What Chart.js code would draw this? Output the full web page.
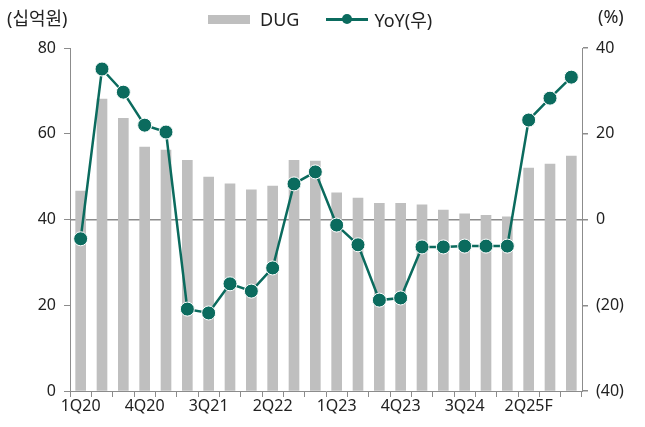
<!DOCTYPE html>
<html>
<head>
<meta charset="utf-8">
<script src="https://cdn.jsdelivr.net/npm/chart.js@4/dist/chart.umd.min.js"></script>
<style>
  html, body { margin: 0; padding: 0; background: #fff; }
  #wrap { position: relative; width: 645px; height: 427px; font-family: "Noto Sans", "Noto Sans CJK KR", sans-serif; color: #222; }
  canvas { position: absolute; left: 0; top: 0; }
  .unit { position: absolute; top: 4px; font-size: 18px; }
  #legend { position: absolute; top: 6px; left: 208px; font-size: 18px; display: flex; align-items: center; }
  .swatch { display: inline-block; width: 42px; height: 9px; background: #bfbfbf; margin-right: 10px; }
  .lineKey { position: relative; display: inline-block; width: 42px; height: 3px; background: #0b6b5e; margin: 0 6px 0 27px; }
  .lineKey::after { content: ""; position: absolute; left: 16px; top: -4px; width: 10px; height: 10px; border-radius: 50%; background: #0b6b5e; }
</style>
</head>
<body>
<div id="wrap">
  <canvas id="dugChart" width="645" height="427"></canvas>
  <div class="unit" style="left:7px">(십억원)</div>
  <div class="unit" style="left:598px">(%)</div>
  <div id="legend"><span class="swatch"></span>DUG<span class="lineKey"></span>YoY(우)</div>
</div>
<script>
// 분기 라벨
const quarters = ['1Q20','2Q20','3Q20','4Q20','1Q21','2Q21','3Q21','4Q21','1Q22','2Q22','3Q22','4Q22',
                  '1Q23','2Q23','3Q23','4Q23','1Q24','2Q24','3Q24','4Q24','1Q25','2Q25F','3Q25F','4Q25F'];
// DUG 매출 (십억원)
const dugValues = [46.6, 68.1, 63.6, 56.9, 56.2, 53.8, 49.9, 48.3, 46.9, 47.8, 53.8, 53.6,
                   46.2, 45.0, 43.8, 43.8, 43.4, 42.2, 41.3, 41.0, 40.6, 52.0, 52.9, 54.8];
// YoY (%)
const yoyValues = [-4.5, 35.1, 29.7, 22.0, 20.4, -20.9, -21.8, -15.0, -16.7, -11.3, 8.3, 11.1,
                   -1.3, -5.9, -18.8, -18.3, -6.4, -6.4, -6.2, -6.2, -6.2, 23.2, 28.3, 33.2];
const leftTicks = [0, 20, 40, 60, 80];
const rightTicks = [-40, -20, 0, 20, 40];

const green = '#0b6b5e';
const axisGray = '#8c8c8c';
const tickFont = { family: '"Noto Sans", sans-serif', size: 16 };

const ctx = document.getElementById('dugChart').getContext('2d');
const dugChart = new Chart(ctx, {
  data: {
    labels: quarters,
    datasets: [
      {
        type: 'line',
        label: 'YoY(우)',
        data: yoyValues,
        yAxisID: 'y1',
        borderColor: green,
        borderWidth: 2.5,
        backgroundColor: green,
        pointRadius: 7,
        pointBorderColor: '#ffffff',
        pointBorderWidth: 1,
        pointBackgroundColor: green,
        tension: 0,
        order: 0
      },
      {
        type: 'bar',
        label: 'DUG',
        data: dugValues,
        yAxisID: 'y',
        backgroundColor: '#bfbfbf',
        barThickness: 10,
        order: 1
      }
    ]
  },
  options: {
    responsive: false,
    animation: false,
    layout: { padding: { top: 48, left: 0, right: 0, bottom: 0 } },
    plugins: { legend: { display: false }, tooltip: { enabled: false } },
    scales: {
      x: {
        offset: true,
        grid: { offset: true, drawOnChartArea: false, tickLength: 6, color: axisGray },
        border: { color: axisGray },
        ticks: {
          autoSkip: false, maxRotation: 0, color: '#222', font: tickFont, padding: 0,
          callback: (v, i) => (i % 3 === 0 ? quarters[i] : '')
        },
        afterFit: s => { s.height = 36; }
      },
      y: {
        position: 'left',
        min: 0, max: 80,
        afterBuildTicks: s => { s.ticks = leftTicks.map(v => ({ value: v })); },
        grid: { drawOnChartArea: false, tickLength: 6, color: axisGray },
        border: { color: axisGray },
        ticks: { color: '#222', font: tickFont, padding: 8 },
        afterFit: s => { s.width = 70; }
      },
      y1: {
        position: 'right',
        min: -40, max: 40,
        afterBuildTicks: s => { s.ticks = rightTicks.map(v => ({ value: v })); },
        grid: {
          drawOnChartArea: true, tickLength: 6,
          color: c => (c.tick && c.tick.value === 0 ? axisGray : 'rgba(0,0,0,0)'),
          tickColor: axisGray,
          lineWidth: 1.5
        },
        border: { color: axisGray },
        ticks: {
          color: '#222', font: tickFont, padding: 8,
          callback: v => (v < 0 ? '(' + Math.abs(v) + ')' : String(v))
        },
        afterFit: s => { s.width = 63; }
      }
    }
  }
});
</script>
</body>
</html>
